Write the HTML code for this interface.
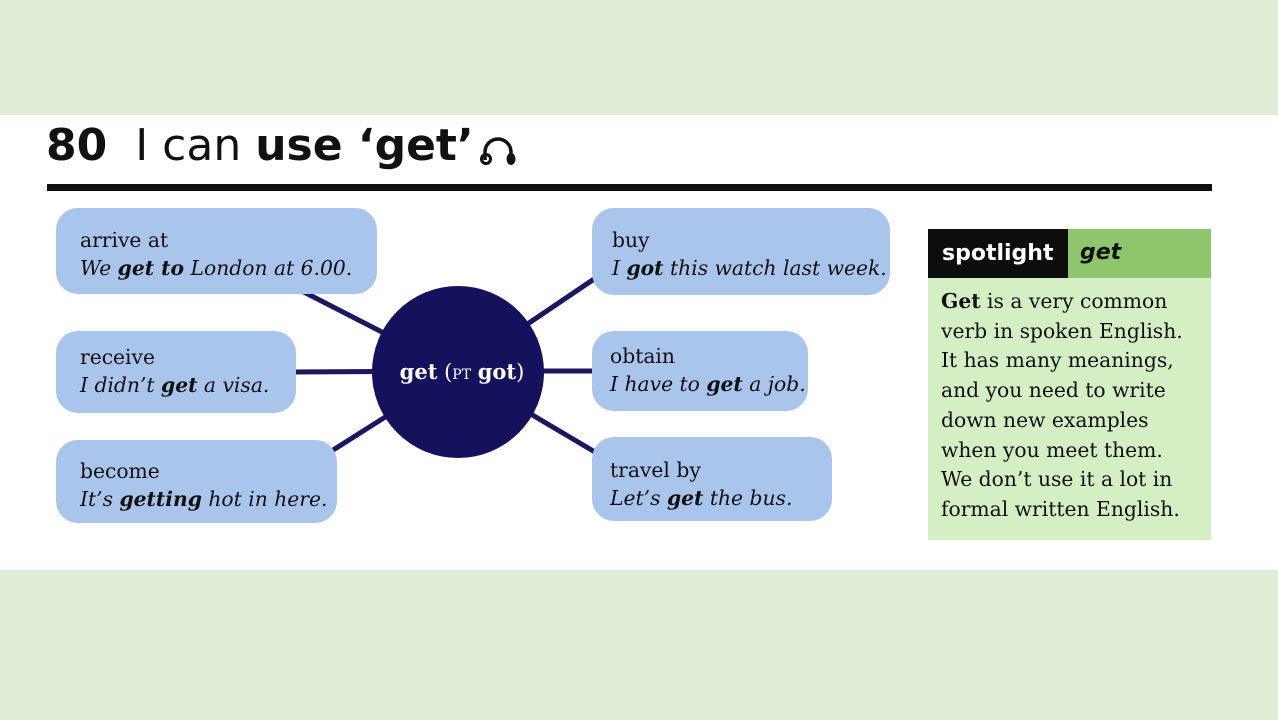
<!DOCTYPE html>
<html><head><style>
body{margin:0;width:1278px;height:720px;background:#e1ecd6;position:relative;overflow:hidden;font-family:"DejaVu Serif","Liberation Serif",serif;}
.band{position:absolute;left:0;top:115px;width:1278px;height:455px;background:#fff;}
.title{position:absolute;left:46px;top:120px;font-family:"DejaVu Sans","Liberation Sans",sans-serif;font-size:44px;color:#111;white-space:nowrap;}
.rule{position:absolute;left:47px;top:184px;width:1165px;height:7px;background:#111;}
.box{position:absolute;background:#a9c5ec;border-radius:22px;box-sizing:border-box;padding:18px 0 0 24px;font-size:20.3px;line-height:28px;color:#111;white-space:nowrap;}
.box i{font-style:italic;}
.sp{position:absolute;left:928px;top:229px;width:283px;height:311px;background:#d5efc5;}
.sph{position:absolute;left:0;top:0;width:283px;height:49px;background:#8dc66c;}
.spb{position:absolute;left:0;top:0;width:140px;height:49px;background:#0d0d0d;color:#fff;font-family:"DejaVu Sans","Liberation Sans",sans-serif;font-size:22px;line-height:49px;padding-left:14px;box-sizing:border-box;font-weight:bold;}
.spg{position:absolute;left:152px;top:0;line-height:47px;font-family:"DejaVu Sans","Liberation Sans",sans-serif;font-size:22px;font-weight:bold;font-style:italic;color:#111;}
.spt{position:absolute;left:13px;top:58px;font-size:20.3px;line-height:29.7px;color:#111;white-space:nowrap;}
</style></head><body>
<div class="band"></div>
<div class="title"><b>80</b>&nbsp; I can <b>use ‘get’</b></div>
<svg style="position:absolute;left:478px;top:136px" width="42" height="32"><path d="M7 24 V16 A13 13 0 0 1 33 16 V24" fill="none" stroke="#111" stroke-width="3.5"/><circle cx="8" cy="23" r="4.5" fill="none" stroke="#111" stroke-width="3"/><ellipse cx="33" cy="23" rx="4.5" ry="6" fill="#111"/></svg>
<div class="rule"></div>
<svg style="position:absolute;left:0;top:0" width="1278" height="720">
<g stroke="#1a1860" stroke-width="5">
<line x1="300" y1="290" x2="458" y2="371"/>
<line x1="290" y1="372" x2="458" y2="371"/>
<line x1="330" y1="452" x2="458" y2="371"/>
<line x1="600" y1="275" x2="458" y2="371"/>
<line x1="600" y1="371" x2="458" y2="371"/>
<line x1="600" y1="455" x2="458" y2="371"/>
</g>
</svg>
<div class="box" style="left:56px;top:208px;width:321px;height:86px">arrive at<br><i>We <b>get to</b> London at 6.00.</i></div>
<div class="box" style="left:56px;top:331px;width:240px;height:82px;padding-top:12px">receive<br><i>I didn’t <b>get</b> a visa.</i></div>
<div class="box" style="left:56px;top:440px;width:281px;height:83px;padding-top:17px">become<br><i>It’s <b>getting</b> hot in here.</i></div>
<div class="box" style="left:592px;top:208px;width:298px;height:87px;padding-left:20px">buy<br><i>I <b>got</b> this watch last week.</i></div>
<div class="box" style="left:592px;top:331px;width:216px;height:80px;padding-top:11px;padding-left:18px">obtain<br><i>I have to <b>get</b> a job.</i></div>
<div class="box" style="left:592px;top:437px;width:240px;height:84px;padding-top:19px;padding-left:18px">travel by<br><i>Let’s <b>get</b> the bus.</i></div>
<svg style="position:absolute;left:0;top:0" width="1278" height="720">
<circle cx="458" cy="372" r="86" fill="#14125c"/>
<text x="462" y="379" text-anchor="middle" fill="#fff" font-family="DejaVu Serif,serif" font-size="21"><tspan font-weight="bold">get</tspan> (<tspan font-size="14">PT</tspan> <tspan font-weight="bold">got</tspan>)</text>
</svg>
<div class="sp">
<div class="sph"></div>
<div class="spb">spotlight</div>
<div class="spg">get</div>
<div class="spt"><b>Get</b> is a very common<br>verb in spoken English.<br>It has many meanings,<br>and you need to write<br>down new examples<br>when you meet them.<br>We don’t use it a lot in<br>formal written English.</div>
</div>
</body></html>
